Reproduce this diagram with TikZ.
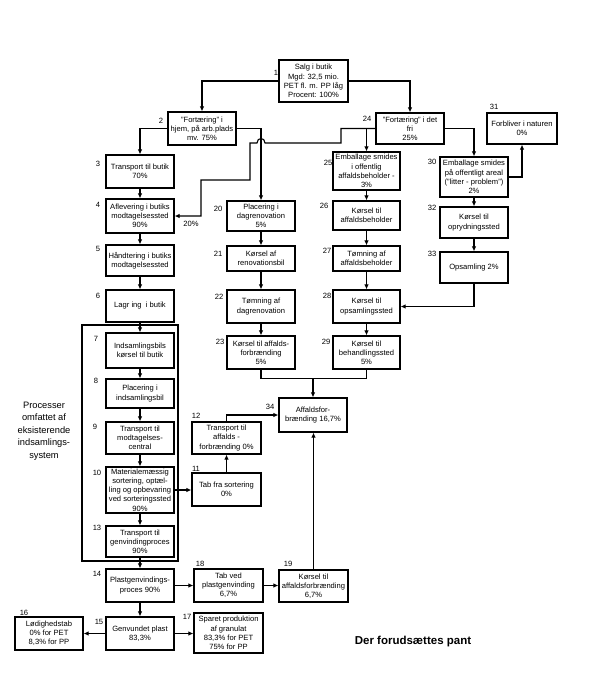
\documentclass[tikz,border=0pt]{standalone}
\usepackage{fontspec}
\setmainfont{Liberation Sans}
\usepackage{tikz}
\usetikzlibrary{arrows.meta,calc,positioning}
\newcommand{\FlowBoxFont}{\fontsize{7.6pt}{9.2pt}\selectfont}
\newcommand{\FlowSideFont}{\fontsize{9.3pt}{12.5pt}\selectfont}
\newcommand{\FlowNoteFont}{\fontsize{11.5pt}{14pt}\selectfont}

\begin{document}
\begin{tikzpicture}[x=1pt,y=-1pt]
            \tikzset{
                recycling flow/.style={-{Latex[length=5pt,width=4.5pt]},
                    line width=1.1pt, draw=black},
                recycling line/.style={line width=1.1pt, draw=black},
                recycling box/.style={draw=black, line width=1.2pt, fill=white,
                    align=center, inner sep=1pt, font=\FlowBoxFont},
                recycling number/.style={inner sep=0pt, font=\FlowBoxFont}
            }
            \useasboundingbox[fill=white] (0,0) rectangle (598,699);

            % frame round the existing collection system
            \draw[line width=1.2pt] (82,325) rectangle (178,561);
            \node[font=\FlowSideFont, align=center] (side-text) at (44,431)
                {Processer\\omfattet af\\eksisterende\\indsamlings-\\system};

            % top
            \node[recycling box, minimum width=69, minimum height=42] (b1) at (313.5,81)
                {Salg i butik\\Mgd: 32,5 mio.\\PET fl. m. PP låg\\Procent: 100\%};
            \node[recycling box, minimum width=68, minimum height=33] (b2) at (202,128.5)
                {"Fortæring" i\\hjem, på arb.plads\\mv. 75\%};
            \node[recycling box, minimum width=68, minimum height=31] (b24) at (410,128.5)
                {"Fortæring" i det\\fri\\25\%};

            % left column
            \node[recycling box, minimum width=68, minimum height=33] (b3) at (140,171.5)
                {Transport til butik\\70\%};
            \node[recycling box, minimum width=68, minimum height=34] (b4) at (140,216)
                {Aflevering i butiks\\modtagelsessted\\90\%};
            \node[recycling box, minimum width=68, minimum height=31] (b5) at (140,260.5)
                {Håndtering i butiks\\modtagelsessted};
            \node[recycling box, minimum width=68, minimum height=32] (b6) at (140,306)
                {Lagr ing~~i butik};
            \node[recycling box, minimum width=68, minimum height=35] (b7) at (140,350.5)
                {Indsamlingsbils\\kørsel til butik};
            \node[recycling box, minimum width=68, minimum height=29] (b8) at (140,393.5)
                {Placering i\\indsamlingsbil};
            \node[recycling box, minimum width=68, minimum height=32] (b9) at (140,438)
                {Transport til\\modtagelses-\\central};
            \node[recycling box, minimum width=68, minimum height=46] (b10) at (140,490)
                {Materialemæssig\\sortering, optæl-\\ling og opbevaring\\ved sorteringssted\\90\%};
            \node[recycling box, minimum width=68, minimum height=31] (b13) at (140,541.5)
                {Transport til\\genvindingproces\\90\%};
            \node[recycling box, minimum width=68, minimum height=33] (b14) at (140,585.5)
                {Plastgenvindings-\\proces 90\%};
            \node[recycling box, minimum width=68, minimum height=33] (b15) at (140,633.5)
                {Genvundet plast\\83,3\%};
            \node[recycling box, minimum width=68, minimum height=33] (b16) at (49,633.5)
                {Lødighedstab\\0\% for PET\\8,3\% for PP};
            \node[recycling box, minimum width=69, minimum height=40] (b17) at (228.5,633)
                {Sparet produktion\\af granulat\\83,3\% for PET\\75\% for PP};
            \node[recycling box, minimum width=69, minimum height=33] (b18) at (228.5,585.5)
                {Tab ved\\plastgenvinding\\6,7\%};
            \node[recycling box, minimum width=69, minimum height=32] (b19) at (313.5,586)
                {Kørsel til\\affaldsforbrænding\\6,7\%};
            \node[recycling box, minimum width=69, minimum height=33] (b11) at (226.5,489.5)
                {Tab fra sortering\\0\%};
            \node[recycling box, minimum width=69, minimum height=32] (b12) at (226.5,438)
                {Transport til\\affalds -\\forbrænding 0\%};
            \node[recycling box, minimum width=68, minimum height=34] (b34) at (313,415)
                {Affaldsfor-\\brænding 16,7\%};

            % middle columns
            \node[recycling box, minimum width=68, minimum height=30] (b20) at (261,216)
                {Placering i\\dagrenovation\\5\%};
            \node[recycling box, minimum width=68, minimum height=25] (b21) at (261,258.5)
                {Kørsel af\\renovationsbil};
            \node[recycling box, minimum width=68, minimum height=33] (b22) at (261,306.5)
                {Tømning af\\dagrenovation};
            \node[recycling box, minimum width=68, minimum height=33] (b23) at (261,352.5)
                {Kørsel til affalds-\\forbrænding\\5\%};
            \node[recycling box, minimum width=67, minimum height=38] (b25) at (366.5,171)
                {Emballage smides\\i offentlig\\affaldsbeholder -\\3\%};
            \node[recycling box, minimum width=67, minimum height=29] (b26) at (366.5,215.5)
                {Kørsel til\\affaldsbeholder};
            \node[recycling box, minimum width=67, minimum height=25] (b27) at (366.5,258.5)
                {Tømning af\\affaldsbeholder};
            \node[recycling box, minimum width=67, minimum height=33] (b28) at (366.5,306.5)
                {Kørsel til\\opsamlingssted};
            \node[recycling box, minimum width=67, minimum height=33] (b29) at (366.5,352.5)
                {Kørsel til\\behandlingssted\\5\%};

            % right column
            \node[recycling box, minimum width=68, minimum height=40] (b30) at (474,177)
                {Emballage smides\\på offentligt areal\\("litter - problem")\\2\%};
            \node[recycling box, minimum width=70, minimum height=31] (b31) at (522,128.5)
                {Forbliver i naturen\\0\%};
            \node[recycling box, minimum width=68, minimum height=31] (b32) at (474,222.5)
                {Kørsel til\\oprydningssted};
            \node[recycling box, minimum width=68, minimum height=31] (b33) at (474,267.5)
                {Opsamling 2\%};

            % process numbers
            \foreach \num/\x/\y in {1/276/73, 2/161/121, 3/98/164, 4/98/205, 5/98/249,
                6/98/296, 7/96/339, 8/96/381, 9/95/427, 10/97/473, 13/97/528,
                14/97/574, 15/99/622, 16/24/613, 17/187/617, 18/200/564, 19/288/564,
                11/196/469, 12/196/416, 34/270/407, 20/218/209, 21/218/254,
                22/219/297, 23/220/342, 24/367/119, 25/328/163, 26/324/206,
                27/327/251, 28/327/296, 29/326/342, 30/432/162, 31/494/107,
                32/432/208, 33/432/254} {
                \node[recycling number] (n\num) at (\x,\y) {\num};
            }

            % connectors
            \draw[recycling flow] (b1.west) -| (b2.north);
            \draw[recycling flow] (b1.east) -| (b24.north);
            \draw[recycling flow] (b2.west) -| (b3.north);
            \draw[recycling flow] (b2.east) -| (b20.north);
            \draw[recycling flow] (b24.west) -| (b25.north);
            \draw[recycling flow] (b24.east) -| (b30.north);
            \draw[recycling flow] (b30.east) -| (b31.south);
            % 20% back to the shop, hopping over the line to 20
            \coordinate (step-a) at (341,143);
            \coordinate (hop-r) at (265,143);
            \coordinate (hop-l) at (257,143);
            \coordinate (bend-a) at (250,180);
            \coordinate (bend-b) at (201,216);
            \draw[recycling flow] (b24.west) -| (step-a) -- (hop-r)
                .. controls (265,137) and (257,137) .. (hop-l)
                -| (bend-a) -| (bend-b) -- (b4.east);
            \node[recycling number] (share-20) at (191,224) {20\%};
            \foreach \from/\to in {b3/b4, b4/b5, b5/b6, b6/b7, b7/b8, b8/b9, b9/b10,
                b10/b13, b13/b14, b14/b15, b20/b21, b21/b22, b22/b23, b25/b26,
                b26/b27, b27/b28, b28/b29, b30/b32, b32/b33} {
                \draw[recycling flow] (\from.south) -- (\to.north);
            }
            \draw[recycling flow] (b33.south) |- (b28.east);
            \draw[recycling line] (b23.south) -- ++(0,9) coordinate (join) -| (b29.south);
            \draw[recycling flow] (join -| b34.north) -- (b34.north);
            \draw[recycling flow] (b10.east) -- (b10.east -| b11.west);
            \draw[recycling flow] (b11.north) -- (b12.south);
            \draw[recycling flow] (b12.north) |- (b34.west);
            \draw[recycling flow] (b14.east) -- (b14.east -| b18.west);
            \draw[recycling flow] (b18.east) -- (b18.east -| b19.west);
            \draw[recycling flow] (b19.north) -- (b19.north |- b34.south);
            \draw[recycling flow] (b15.west) -- (b16.east);
            \draw[recycling flow] (b15.east) -- (b15.east -| b17.west);

            \node[font=\FlowNoteFont\bfseries] (pant-note) at (413,642) {Der forudsættes pant};
\end{tikzpicture}
\end{document}
